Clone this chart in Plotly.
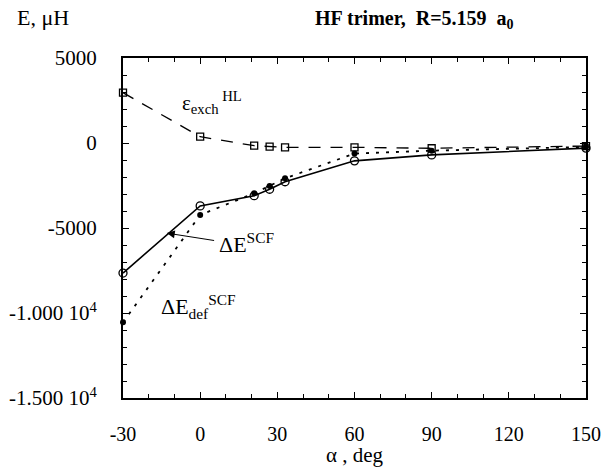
import plotly.graph_objects as go

# Data (alpha in degrees, energies in microhartree)
alpha_exch = [-30, 0, 21, 27, 33, 60, 90, 150]
e_exch = [2960, 370, -160, -215, -255, -255, -310, -180]

alpha_scf = [-30, 0, 21, 27, 33, 60, 90, 150]
e_scf = [-7650, -3700, -3100, -2720, -2280, -1050, -700, -300]

alpha_def = [-30, 0, 21, 27, 33, 60, 90, 150]
e_def = [-10550, -4230, -2960, -2530, -2080, -620, -450, -230]

y_tickvals = [5000, 0, -5000, -10000, -15000]
y_ticktext = ["5000", "0", "-5000", "-1.000 10<sup>4</sup>", "-1.500 10<sup>4</sup>"]
x_tickvals = [-30, 0, 30, 60, 90, 120, 150]
x_ticktext = ["-30", "0", "30", "60", "90", "120", "150"]

FONT = "Liberation Serif"

fig = go.Figure()
fig.add_trace(go.Scatter(
    x=alpha_exch, y=e_exch, mode="lines+markers",
    line=dict(color="black", width=1.3, dash="12px,10px"),
    marker=dict(symbol="square-open", size=7, color="black", line=dict(width=1.3)),
    showlegend=False, cliponaxis=False))
fig.add_trace(go.Scatter(
    x=alpha_def, y=e_def, mode="lines+markers",
    line=dict(color="black", width=1.8, dash="3px,7px"),
    marker=dict(symbol="circle", size=6, color="black"),
    showlegend=False, cliponaxis=False))
fig.add_trace(go.Scatter(
    x=alpha_scf, y=e_scf, mode="lines+markers",
    line=dict(color="black", width=1.6),
    marker=dict(symbol="circle-open", size=8, color="black", line=dict(width=1.3)),
    showlegend=False, cliponaxis=False))

axis_common = dict(
    showgrid=False, zeroline=False, showline=True, linecolor="black", linewidth=2,
    mirror="ticks", ticks="inside", tickcolor="black", tickwidth=1, ticklen=6,
    automargin=False,
)
fig.update_xaxes(
    range=[-30, 150], tickmode="array", tickvals=x_tickvals, ticktext=x_ticktext,
    minor=dict(dtick=10, ticks="inside", ticklen=4, tickcolor="black"),
    ticklabelstandoff=17, tickfont=dict(family=FONT, size=20, color="black"),
    **axis_common)
fig.update_yaxes(
    range=[-15000, 5000], tickmode="array", tickvals=y_tickvals, ticktext=y_ticktext,
    minor=dict(dtick=1000, ticks="inside", ticklen=4, tickcolor="black"),
    ticklabelstandoff=20, tickfont=dict(family=FONT, size=21, color="black"),
    **axis_common)

fig.add_annotation(text="<b>HF trimer,\u00a0 R=5.159\u00a0 a<sub>0</sub></b>",
                   xref="paper", yref="paper", x=0.629, y=1.112,
                   xanchor="center", yanchor="middle", showarrow=False,
                   font=dict(family=FONT, size=20, color="black"))
fig.add_annotation(text="E, μH", xref="paper", yref="paper", x=-0.233, y=1.118,
                   xanchor="left", yanchor="middle", showarrow=False,
                   font=dict(family=FONT, size=22, color="black"))
fig.add_annotation(text="α\u00a0,\u00a0deg", xref="paper", yref="paper", x=0.5, y=-0.168,
                   xanchor="center", yanchor="middle", showarrow=False,
                   font=dict(family=FONT, size=21, color="black"))
fig.add_annotation(text="ε<sub>exch</sub><sup>\u00a0HL</sup>", x=-8, y=2400, xanchor="left",
                   showarrow=False, font=dict(family=FONT, size=21, color="black"))
fig.add_annotation(text="ΔE<sup>SCF</sup>", x=6.5, y=-5900, xanchor="left",
                   showarrow=False, font=dict(family=FONT, size=22, color="black"))
fig.add_annotation(x=-13, y=-5300, ax=6, ay=-5750, axref="x", ayref="y",
                   text="", showarrow=True, arrowhead=2, arrowsize=1.6, arrowwidth=1,
                   arrowcolor="black")
fig.add_annotation(text="ΔE<sub>def</sub><sup>SCF</sup>", x=-16, y=-9600, xanchor="left",
                   showarrow=False, font=dict(family=FONT, size=22, color="black"))

fig.update_layout(
    width=603, height=468, plot_bgcolor="white", paper_bgcolor="white",
    margin=dict(l=123, r=17, t=58, b=70),
    font=dict(family=FONT, color="black"),
)
# Remove the default page margin so the 603x468 figure fills the window exactly.
fig.write_html("out.html", config={"displayModeBar": False},
               post_script="document.body.style.margin='0';document.body.style.overflow='hidden';")
